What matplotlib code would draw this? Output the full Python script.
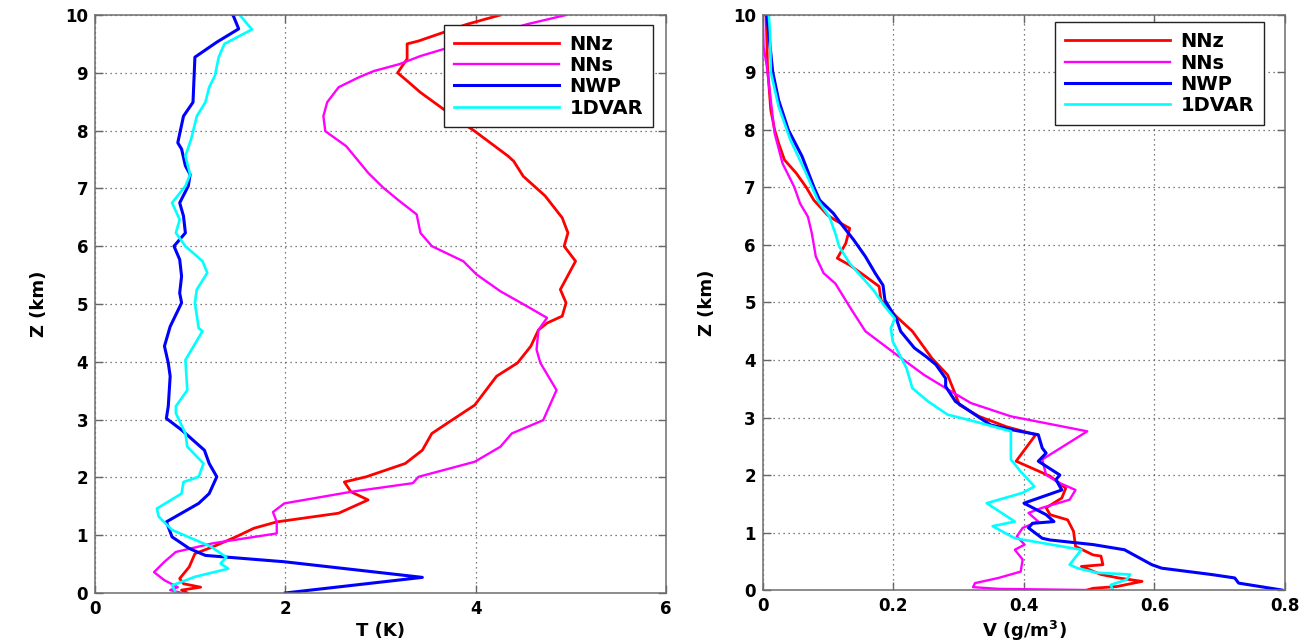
import matplotlib
matplotlib.use("Agg")
import matplotlib.pyplot as plt

# ---- left panel: temperature error profiles, T (K) vs Z (km) ----
t_nnz_x = [4.26, 3.91, 3.40, 3.28, 3.28, 3.18, 3.28, 3.42, 3.83, 3.99, 4.34, 4.40, 4.50, 4.73,
           4.91, 4.97, 4.93, 5.05, 4.89, 4.95, 4.91, 4.75, 4.66, 4.58, 4.44, 4.22, 3.99, 3.75,
           3.54, 3.44, 3.26, 2.85, 2.62, 2.69, 2.87, 2.56, 1.91, 1.67, 1.48, 1.24, 1.05, 0.99,
           0.89, 0.93, 1.11, 0.91, 0.97]
t_nnz_z = [10.0, 9.84, 9.55, 9.50, 9.24, 9.00, 8.86, 8.66, 8.17, 7.99, 7.56, 7.47, 7.21, 6.87,
           6.49, 6.23, 6.00, 5.74, 5.25, 5.02, 4.79, 4.67, 4.55, 4.27, 3.98, 3.75, 3.25, 2.99,
           2.76, 2.47, 2.24, 2.01, 1.92, 1.75, 1.61, 1.38, 1.23, 1.12, 0.97, 0.80, 0.68, 0.45,
           0.25, 0.16, 0.10, 0.05, 0.0]

t_nns_x = [4.95, 4.54, 3.42, 3.20, 2.93, 2.77, 2.56, 2.44, 2.40, 2.42, 2.64, 2.87, 3.03, 3.20,
           3.38, 3.42, 3.54, 3.87, 4.01, 4.26, 4.54, 4.75, 4.66, 4.64, 4.68, 4.85, 4.71, 4.38,
           4.26, 3.99, 3.40, 3.34, 2.69, 1.99, 1.87, 1.91, 1.91, 1.24, 0.85, 0.73, 0.62, 0.73,
           0.87, 0.79, 0.91]
t_nns_z = [10.0, 9.84, 9.29, 9.15, 9.03, 8.92, 8.75, 8.49, 8.25, 7.99, 7.73, 7.27, 7.01, 6.78,
           6.55, 6.23, 6.00, 5.74, 5.51, 5.22, 4.96, 4.76, 4.55, 4.21, 3.98, 3.51, 2.99, 2.76,
           2.53, 2.27, 2.01, 1.90, 1.75, 1.55, 1.40, 1.23, 1.03, 0.86, 0.71, 0.54, 0.36, 0.22,
           0.10, 0.05, 0.0]

t_nwp_x = [1.45, 1.51, 1.28, 1.05, 1.03, 0.93, 0.87, 0.91, 0.95, 1.00, 0.98, 0.89, 0.93, 0.95,
           0.83, 0.89, 0.91, 0.89, 0.91, 0.79, 0.73, 0.77, 0.79, 0.77, 0.75, 0.91, 1.15, 1.20,
           1.28, 1.20, 1.09, 0.75, 0.81, 0.99, 1.16, 1.99, 3.44, 2.00]
t_nwp_z = [10.0, 9.76, 9.53, 9.27, 8.49, 8.25, 7.79, 7.68, 7.39, 7.24, 7.04, 6.75, 6.52, 6.23,
           6.00, 5.77, 5.48, 5.19, 5.02, 4.61, 4.27, 3.98, 3.75, 3.23, 3.02, 2.82, 2.47, 2.24,
           2.01, 1.72, 1.55, 1.23, 0.97, 0.77, 0.65, 0.54, 0.27, 0.0]

t_var_x = [1.52, 1.65, 1.36, 1.30, 1.26, 1.20, 1.16, 1.07, 1.01, 0.95, 1.00, 0.95, 0.81, 0.89,
           0.85, 0.95, 1.13, 1.18, 1.07, 1.05, 1.09, 1.13, 0.95, 0.97, 0.85, 0.85, 0.95, 0.97,
           1.14, 1.09, 0.93, 0.91, 0.65, 0.67, 0.81, 1.22, 1.38, 1.32, 1.40, 1.05, 0.81, 0.85]
t_var_z = [10.0, 9.75, 9.50, 9.27, 8.95, 8.75, 8.49, 8.25, 7.85, 7.56, 7.24, 7.04, 6.75, 6.46,
           6.23, 6.00, 5.74, 5.54, 5.25, 5.02, 4.58, 4.53, 4.03, 3.51, 3.23, 3.11, 2.76, 2.53,
           2.24, 2.01, 1.92, 1.72, 1.46, 1.32, 1.09, 0.80, 0.62, 0.51, 0.42, 0.28, 0.13, 0.0]

# ---- right panel: water vapour error profiles, V (g/m3) vs Z (km) ----
v_nnz_x = [0.005, 0.007, 0.012, 0.018, 0.024, 0.033, 0.051, 0.066, 0.078, 0.099, 0.111, 0.133,
           0.127, 0.114, 0.133, 0.154, 0.178, 0.181, 0.205, 0.229, 0.259, 0.283, 0.289, 0.295,
           0.301, 0.331, 0.373, 0.418, 0.388, 0.440, 0.464, 0.458, 0.434, 0.440, 0.467, 0.476,
           0.479, 0.506, 0.518, 0.521, 0.488, 0.518, 0.545, 0.581, 0.542, 0.506, 0.497]
v_nnz_z = [10.0, 9.10, 8.35, 8.00, 7.77, 7.48, 7.25, 7.01, 6.78, 6.52, 6.43, 6.29,
           6.03, 5.77, 5.65, 5.48, 5.28, 5.04, 4.75, 4.50, 4.03, 3.74, 3.57, 3.40,
           3.22, 3.02, 2.84, 2.70, 2.24, 1.98, 1.77, 1.60, 1.43, 1.31, 1.22, 1.02,
           0.76, 0.61, 0.59, 0.44, 0.41, 0.27, 0.21, 0.15, 0.06, 0.03, 0.0]

v_nns_x = [0.000, 0.001, 0.006, 0.012, 0.018, 0.030, 0.048, 0.057, 0.069, 0.075, 0.081, 0.093,
           0.111, 0.136, 0.157, 0.205, 0.247, 0.289, 0.319, 0.380, 0.497, 0.428, 0.434, 0.455,
           0.479, 0.470, 0.428, 0.407, 0.422, 0.398, 0.389, 0.401, 0.386, 0.398, 0.395, 0.361,
           0.325, 0.322, 0.361, 0.497]
v_nns_z = [10.0, 9.45, 9.10, 8.52, 7.94, 7.42, 7.01, 6.72, 6.49, 6.20, 5.80, 5.51,
           5.33, 4.87, 4.50, 4.09, 3.74, 3.45, 3.25, 3.02, 2.76, 2.27, 2.00, 1.86,
           1.74, 1.57, 1.43, 1.34, 1.19, 1.08, 0.93, 0.79, 0.70, 0.53, 0.32, 0.21,
           0.12, 0.05, 0.02, 0.0]

v_nwp_x = [0.006, 0.009, 0.015, 0.024, 0.039, 0.060, 0.078, 0.087, 0.108, 0.117, 0.139, 0.157,
           0.172, 0.184, 0.187, 0.205, 0.211, 0.232, 0.250, 0.265, 0.280, 0.280, 0.295, 0.325,
           0.349, 0.380, 0.422, 0.428, 0.434, 0.422, 0.455, 0.449, 0.458, 0.400, 0.434, 0.446,
           0.413, 0.407, 0.428, 0.440, 0.506, 0.554, 0.596, 0.611, 0.687, 0.723, 0.729, 0.795]
v_nwp_z = [10.0, 9.68, 9.01, 8.52, 8.00, 7.54, 7.01, 6.78, 6.55, 6.41, 6.09, 5.80,
           5.51, 5.30, 5.04, 4.70, 4.50, 4.21, 4.06, 3.92, 3.68, 3.54, 3.28, 3.05,
           2.87, 2.79, 2.70, 2.47, 2.38, 2.24, 2.00, 1.92, 1.74, 1.51, 1.31, 1.19,
           1.16, 1.08, 0.90, 0.87, 0.79, 0.70, 0.44, 0.38, 0.27, 0.21, 0.12, 0.0]

v_var_x = [0.009, 0.011, 0.012, 0.024, 0.042, 0.066, 0.084, 0.102, 0.111, 0.117, 0.133, 0.151,
           0.169, 0.187, 0.202, 0.196, 0.199, 0.220, 0.229, 0.253, 0.283, 0.325, 0.380, 0.380,
           0.395, 0.416, 0.398, 0.343, 0.386, 0.352, 0.386, 0.488, 0.470, 0.482, 0.512, 0.563,
           0.557, 0.533, 0.536]
v_var_z = [10.0, 9.68, 9.01, 8.41, 7.83, 7.25, 6.78, 6.49, 6.20, 5.97, 5.68, 5.45,
           5.22, 4.93, 4.72, 4.55, 4.32, 3.86, 3.51, 3.28, 3.05, 2.93, 2.76, 2.27,
           2.06, 1.80, 1.69, 1.51, 1.19, 1.11, 0.90, 0.70, 0.44, 0.38, 0.30, 0.27,
           0.18, 0.09, 0.0]

labels = ['NNz', 'NNs', 'NWP', '1DVAR']
colors = ['#ff0000', '#ff00ff', '#0000ff', '#00ffff']
widths = [2.0, 1.7, 2.2, 1.9]

plt.rcParams['font.family'] = ['DejaVu Sans']
plt.rcParams['font.weight'] = 'bold'

fig = plt.figure(figsize=(13.12, 6.43), dpi=100)
ax1 = fig.add_axes([0.0724, 0.0778, 0.4352, 0.8989])
ax2 = fig.add_axes([0.5815, 0.0824, 0.3979, 0.8943])


def style_axes(ax, xlim, xticks, xticklabels, xlabel):
    ax.set_xlim(*xlim)
    ax.set_ylim(0, 10)
    ax.set_xticks(xticks)
    ax.set_xticklabels(xticklabels)
    ax.set_yticks(range(0, 11))
    ax.grid(True, linestyle=(0, (1, 3)), color='#555555', linewidth=0.9)
    ax.tick_params(direction='in', top=True, right=True, length=6, labelsize=12,
                   width=1, color='#666666', pad=5)
    for lab in ax.get_xticklabels() + ax.get_yticklabels():
        lab.set_fontweight('bold')
    for sp in ax.spines.values():
        sp.set_color('#6e6e6e')
        sp.set_linewidth(1.1)
    ax.set_xlabel(xlabel, fontsize=13, fontweight='bold', labelpad=3)
    ax.set_ylabel('Z (km)', fontsize=13, fontweight='bold', labelpad=12)


series_t = [(t_nnz_x, t_nnz_z), (t_nns_x, t_nns_z), (t_nwp_x, t_nwp_z), (t_var_x, t_var_z)]
series_v = [(v_nnz_x, v_nnz_z), (v_nns_x, v_nns_z), (v_nwp_x, v_nwp_z), (v_var_x, v_var_z)]

for (x, z), c, lab, lw in zip(series_t, colors, labels, widths):
    ax1.plot(x, z, color=c, linewidth=lw, label=lab)
for (x, z), c, lab, lw in zip(series_v, colors, labels, widths):
    ax2.plot(x, z, color=c, linewidth=lw, label=lab)

style_axes(ax1, (0, 6), [0, 2, 4, 6], ['0', '2', '4', '6'], 'T (K)')
style_axes(ax2, (0, 0.8), [0, 0.2, 0.4, 0.6, 0.8], ['0', '0.2', '0.4', '0.6', '0.8'],
           'V (g/m$^\\mathbf{3}$)')

leg_kw = dict(frameon=True, fancybox=False, edgecolor='#222222', framealpha=1,
              handlelength=5.4, handletextpad=0.55, labelspacing=0.12, borderpad=0.5,
              borderaxespad=0.0, prop={'weight': 'bold', 'size': 14})
l1 = ax1.legend(loc='upper right', bbox_to_anchor=(0.977, 0.983), **leg_kw)
l2 = ax2.legend(loc='upper right', bbox_to_anchor=(0.96, 0.987), **leg_kw)
for l in (l1, l2):
    l.get_frame().set_linewidth(1.0)

fig.savefig('out.png', dpi=100)
